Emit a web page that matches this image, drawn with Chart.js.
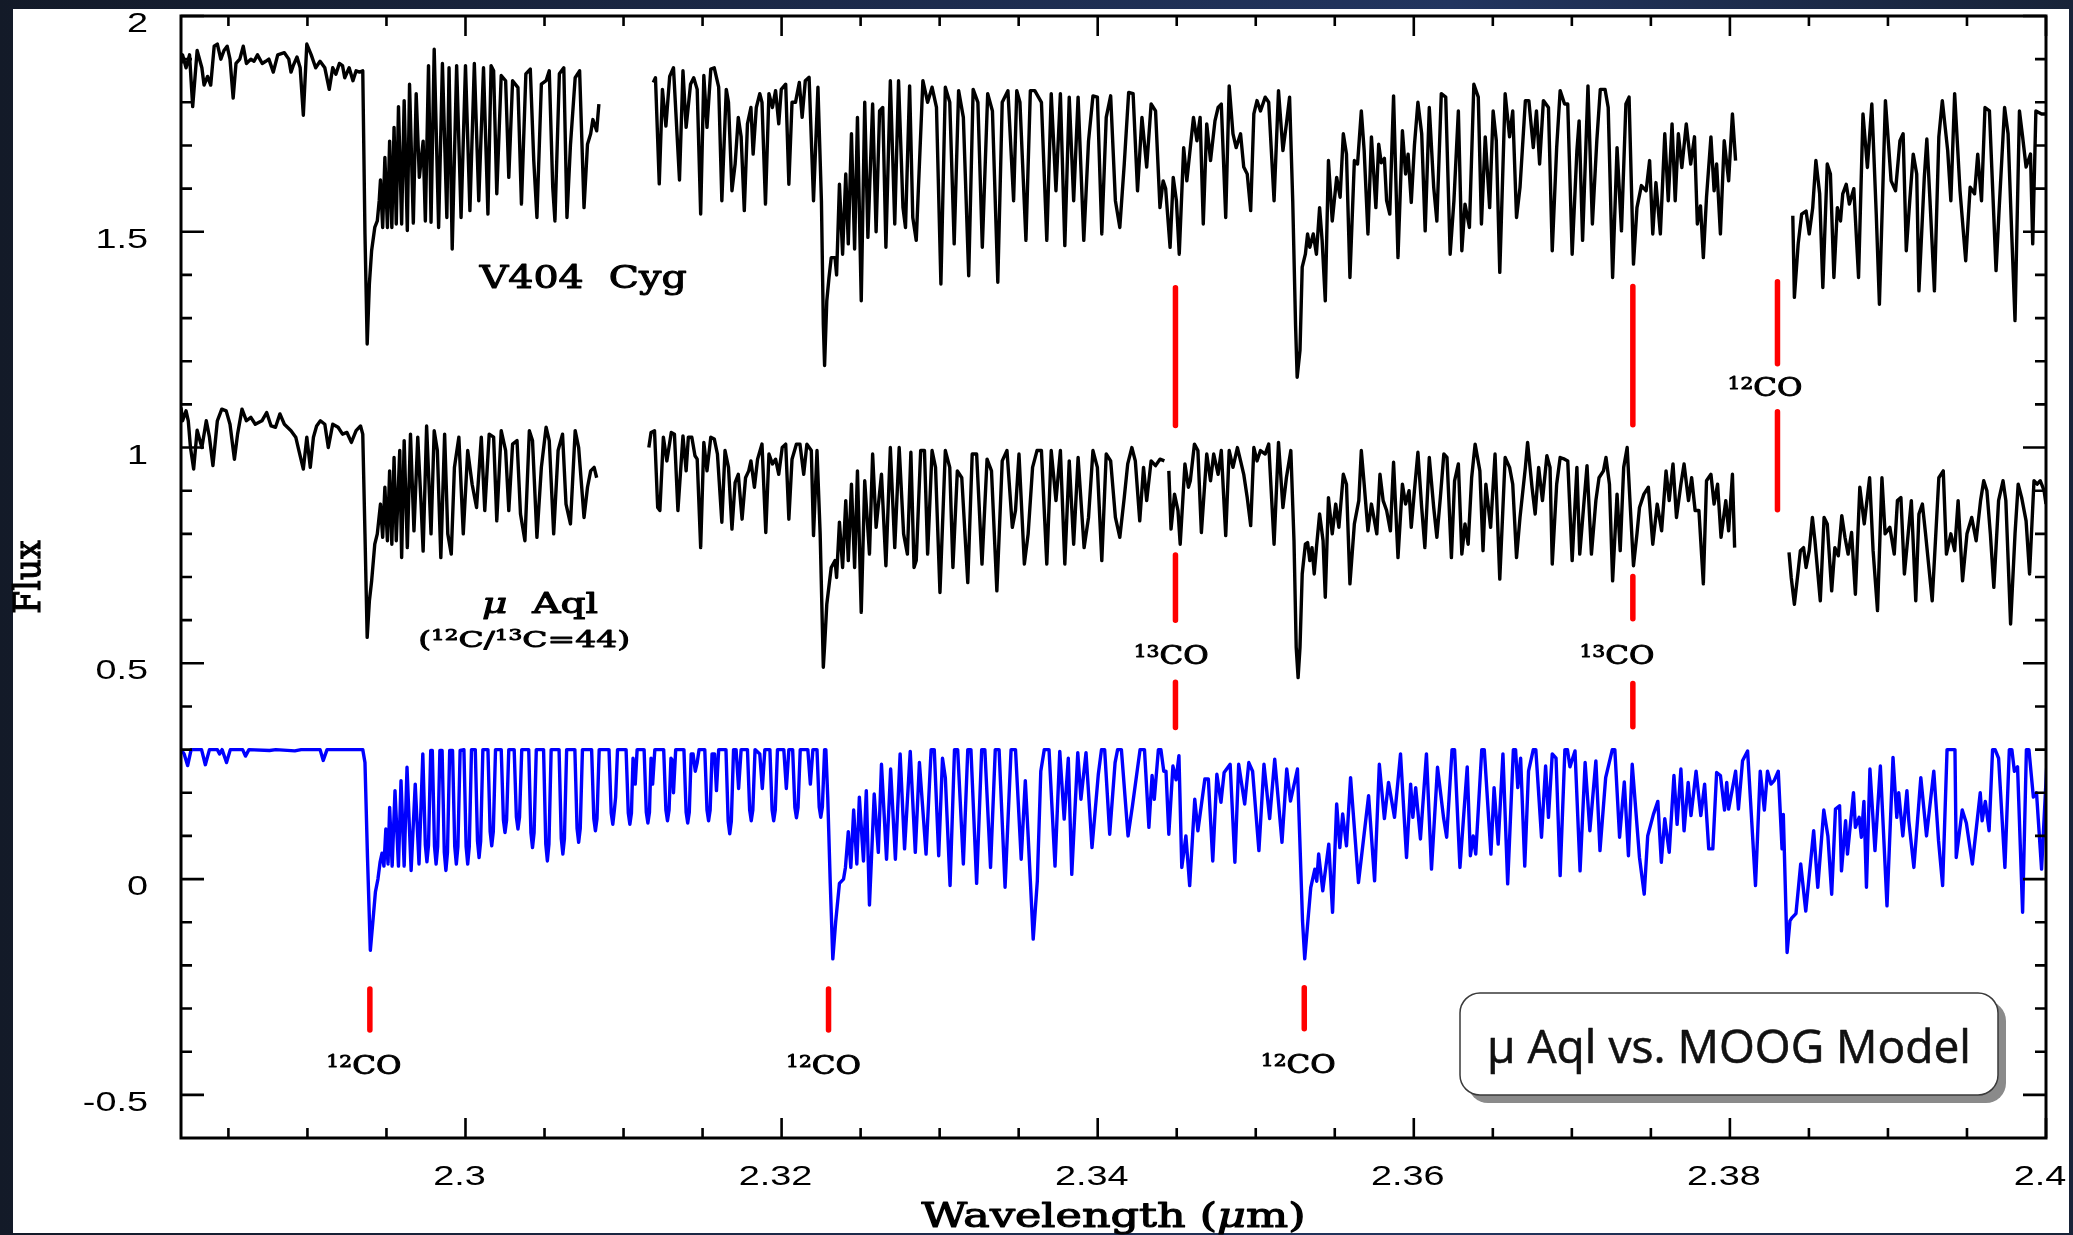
<!DOCTYPE html>
<html>
<head>
<meta charset="utf-8">
<script src="https://cdn.jsdelivr.net/npm/chart.js@4.4.1/dist/chart.umd.min.js"></script>
<style>
  html, body { margin: 0; padding: 0; }
  body { width: 2073px; height: 1235px; overflow: hidden; position: relative;
         background: linear-gradient(90deg, #131a28 0%, #1c2a4a 40%, #22355f 70%, #182338 100%); }
  #panel { position: absolute; left: 13px; top: 9px; width: 2056px; height: 1224px; background: #fff; }
  #spectra { position: absolute; left: 0; top: 0; }
</style>
</head>
<body>
<div id="panel"></div>
<canvas id="spectra" width="2073" height="1235"></canvas>
<script>
// wavelength (micron) / flux pairs, null = no data
const v404Cyg = [
  [2.28200,1.89],[2.28210,1.91],[2.28232,1.88],[2.28254,1.91],[2.28274,1.79],[2.28302,1.92],[2.28332,1.88],[2.28346,1.84],[2.28368,1.86],[2.28388,1.84],
  [2.28410,1.93],[2.28430,1.935],[2.28452,1.90],[2.28472,1.92],[2.28492,1.93],[2.28510,1.90],[2.28530,1.81],[2.28548,1.89],[2.28572,1.90],[2.28594,1.93],
  [2.28614,1.89],[2.28642,1.90],[2.28662,1.895],[2.28684,1.91],[2.28714,1.89],[2.28736,1.895],[2.28756,1.90],[2.28784,1.87],[2.28812,1.91],[2.28854,1.915],
  [2.28882,1.90],[2.28896,1.87],[2.28910,1.885],[2.28934,1.905],[2.28954,1.88],[2.28974,1.77],[2.28996,1.935],[2.29024,1.91],[2.29052,1.88],[2.29080,1.895],
  [2.29110,1.88],[2.29138,1.83],[2.29160,1.88],[2.29180,1.865],[2.29202,1.89],[2.29222,1.885],[2.29236,1.857],[2.29264,1.88],[2.29288,1.85],[2.29308,1.873],
  [2.29330,1.87],[2.29350,1.873],[2.29364,1.495],[2.29378,1.24],[2.29392,1.38],[2.29406,1.456],[2.29426,1.51],[2.29442,1.525],[2.29454,1.572],[2.29462,1.62],
  [2.29476,1.51],[2.29490,1.672],[2.29506,1.51],[2.29520,1.71],[2.29534,1.51],[2.29548,1.742],[2.29562,1.518],[2.29576,1.79],[2.29596,1.518],[2.29612,1.804],
  [2.29632,1.503],[2.29646,1.842],[2.29670,1.52],[2.29688,1.82],[2.29708,1.626],[2.29732,1.71],[2.29746,1.525],[2.29766,1.885],[2.29782,1.522],[2.29802,1.923],
  [2.29830,1.51],[2.29854,1.89],[2.29882,1.533],[2.29896,1.88],[2.29916,1.46],[2.29944,1.885],[2.29972,1.533],[2.30000,1.885],[2.30028,1.549],[2.30056,1.89],
  [2.30084,1.572],[2.30114,1.88],[2.30142,1.541],[2.30162,1.885],[2.30178,1.873],[2.30198,1.588],[2.30226,1.862],[2.30254,1.85],[2.30274,1.626],[2.30298,1.85],
  [2.30332,1.834],[2.30354,1.564],[2.30382,1.866],[2.30410,1.877],[2.30432,1.665],[2.30452,1.533],[2.30480,1.842],[2.30510,1.85],[2.30530,1.873],[2.30552,1.603],
  [2.30566,1.525],[2.30594,1.866],[2.30622,1.88],[2.30642,1.533],[2.30664,1.70],[2.30694,1.857],[2.30722,1.873],[2.30750,1.556],[2.30772,1.703],[2.30792,1.727],
  [2.30806,1.76],[2.30830,1.734],[2.30844,1.796],
  null,
  [2.31188,1.846],[2.31202,1.857],[2.31226,1.611],[2.31246,1.83],[2.31268,1.745],[2.31292,1.86],[2.31316,1.88],[2.31354,1.62],[2.31376,1.873],[2.31396,1.742],
  [2.31424,1.842],[2.31444,1.857],[2.31466,1.83],[2.31488,1.541],[2.31508,1.862],[2.31528,1.742],[2.31552,1.877],[2.31574,1.88],[2.31602,1.835],[2.31622,1.572],
  [2.31650,1.83],[2.31664,1.80],[2.31686,1.595],[2.31706,1.657],[2.31726,1.765],[2.31744,1.72],[2.31764,1.549],[2.31784,1.75],[2.31806,1.788],[2.31820,1.68],
  [2.31840,1.788],[2.31862,1.82],[2.31876,1.80],[2.31898,1.564],[2.31920,1.82],[2.31942,1.788],[2.31962,1.827],[2.31982,1.75],[2.31998,1.83],[2.32026,1.842],
  [2.32046,1.61],[2.32066,1.80],[2.32088,1.80],[2.32112,1.846],[2.32130,1.765],[2.32150,1.85],[2.32174,1.858],[2.32202,1.572],[2.32230,1.835],[2.32252,1.572],
  [2.32264,1.286],[2.32272,1.19],[2.32286,1.34],[2.32300,1.394],[2.32314,1.44],[2.32338,1.44],[2.32348,1.40],[2.32366,1.61],[2.32386,1.448],[2.32406,1.634],
  [2.32422,1.472],[2.32442,1.727],[2.32462,1.46],[2.32480,1.765],[2.32504,1.34],[2.32526,1.80],[2.32546,1.487],[2.32576,1.796],[2.32598,1.50],[2.32620,1.78],
  [2.32640,1.788],[2.32660,1.464],[2.32688,1.85],[2.32716,1.518],[2.32740,1.85],[2.32768,1.556],[2.32784,1.51],[2.32810,1.838],[2.32830,1.533],[2.32852,1.48],
  [2.32894,1.85],[2.32924,1.80],[2.32952,1.835],[2.32980,1.788],[2.33008,1.379],[2.33036,1.835],[2.33064,1.80],[2.33092,1.472],[2.33120,1.827],[2.33150,1.765],
  [2.33184,1.398],[2.33212,1.83],[2.33242,1.80],[2.33270,1.464],[2.33304,1.82],[2.33334,1.78],[2.33368,1.383],[2.33396,1.80],[2.33432,1.827],[2.33468,1.572],
  [2.33488,1.827],[2.33508,1.80],[2.33546,1.48],[2.33574,1.827],[2.33602,1.827],[2.33644,1.80],[2.33678,1.48],[2.33706,1.82],[2.33736,1.595],[2.33764,1.82],
  [2.33792,1.468],[2.33820,1.812],[2.33848,1.572],[2.33876,1.812],[2.33912,1.48],[2.33942,1.71],[2.33970,1.815],[2.33998,1.812],[2.34026,1.495],[2.34054,1.765],
  [2.34082,1.815],[2.34112,1.572],[2.34140,1.51],[2.34168,1.657],[2.34196,1.823],[2.34224,1.82],[2.34252,1.595],[2.34280,1.765],[2.34310,1.65],[2.34338,1.796],
  [2.34366,1.78],[2.34394,1.556],[2.34414,1.618],[2.34430,1.60],[2.34458,1.464],[2.34478,1.626],[2.34498,1.572],[2.34516,1.448],[2.34544,1.695],[2.34564,1.618],
  [2.34586,1.695],[2.34606,1.765],[2.34628,1.711],[2.34648,1.765],[2.34668,1.518],[2.34690,1.75],[2.34714,1.665],[2.34742,1.757],[2.34762,1.788],[2.34782,1.796],
  [2.34810,1.533],[2.34832,1.838],[2.34856,1.727],[2.34876,1.695],[2.34904,1.727],[2.34924,1.65],[2.34946,1.634],[2.34968,1.549],[2.34988,1.773],[2.35008,1.804],
  [2.35030,1.78],[2.35060,1.812],[2.35082,1.80],[2.35116,1.572],[2.35144,1.827],[2.35172,1.688],[2.35194,1.75],[2.35214,1.812],[2.35234,1.572],[2.35252,1.282],
  [2.35262,1.163],[2.35280,1.225],[2.35294,1.418],[2.35314,1.448],[2.35328,1.495],[2.35342,1.464],[2.35364,1.495],[2.35384,1.448],[2.35404,1.556],[2.35420,1.48],
  [2.35440,1.34],[2.35460,1.665],[2.35484,1.525],[2.35512,1.626],[2.35534,1.58],[2.35554,1.727],[2.35574,1.68],[2.35596,1.394],[2.35624,1.665],[2.35644,1.657],
  [2.35668,1.78],[2.35686,1.688],[2.35710,1.495],[2.35732,1.72],[2.35760,1.556],[2.35778,1.703],[2.35794,1.66],[2.35814,1.67],[2.35828,1.572],[2.35848,1.541],
  [2.35872,1.815],[2.35900,1.44],[2.35928,1.734],[2.35948,1.634],[2.35964,1.68],[2.35984,1.568],[2.36004,1.70],[2.36026,1.80],[2.36050,1.727],[2.36072,1.502],
  [2.36098,1.788],[2.36126,1.603],[2.36146,1.525],[2.36174,1.82],[2.36202,1.812],[2.36230,1.448],[2.36254,1.572],[2.36282,1.78],[2.36304,1.456],[2.36324,1.564],
  [2.36352,1.51],[2.36380,1.842],[2.36408,1.812],[2.36428,1.518],[2.36452,1.72],[2.36480,1.556],[2.36502,1.78],[2.36522,1.711],[2.36544,1.406],[2.36578,1.82],
  [2.36606,1.72],[2.36626,1.78],[2.36650,1.533],[2.36672,1.603],[2.36706,1.804],[2.36728,1.804],[2.36756,1.695],[2.36776,1.78],[2.36796,1.657],[2.36820,1.804],
  [2.36852,1.788],[2.36876,1.456],[2.36904,1.695],[2.36926,1.827],[2.36954,1.796],[2.36974,1.796],[2.37002,1.448],[2.37032,1.688],[2.37046,1.757],[2.37068,1.48],
  [2.37102,1.838],[2.37130,1.518],[2.37158,1.711],[2.37180,1.83],[2.37210,1.83],[2.37230,1.788],[2.37258,1.394],[2.37286,1.695],[2.37314,1.502],[2.37342,1.796],
  [2.37362,1.812],[2.37390,1.425],[2.37412,1.556],[2.37440,1.607],[2.37470,1.595],[2.37492,1.665],[2.37512,1.495],[2.37532,1.614],[2.37560,1.495],[2.37588,1.727],
  [2.37610,1.572],[2.37634,1.75],[2.37654,1.572],[2.37674,1.727],[2.37696,1.649],[2.37724,1.75],[2.37752,1.657],[2.37776,1.72],[2.37794,1.518],[2.37814,1.56],
  [2.37832,1.44],[2.37852,1.58],[2.37880,1.72],[2.37900,1.595],[2.37916,1.657],[2.37940,1.495],[2.37964,1.711],[2.37992,1.618],[2.38016,1.773],[2.38036,1.665],
  null,
  [2.38398,1.537],[2.38408,1.348],[2.38432,1.472],[2.38454,1.541],[2.38482,1.548],[2.38502,1.495],[2.38524,1.556],[2.38544,1.665],[2.38568,1.588],[2.38588,1.371],
  [2.38616,1.657],[2.38636,1.634],[2.38658,1.394],[2.38680,1.556],[2.38700,1.525],[2.38714,1.588],[2.38736,1.61],[2.38756,1.564],[2.38784,1.60],[2.38814,1.394],
  [2.38842,1.773],[2.38870,1.649],[2.38898,1.796],[2.38926,1.541],[2.38946,1.332],[2.38984,1.804],[2.39020,1.618],[2.39048,1.595],[2.39076,1.711],[2.39096,1.727],
  [2.39116,1.456],[2.39138,1.572],[2.39160,1.68],[2.39182,1.634],[2.39196,1.363],[2.39230,1.626],[2.39246,1.715],[2.39266,1.572],[2.39294,1.363],[2.39322,1.72],
  [2.39344,1.804],[2.39378,1.688],[2.39398,1.572],[2.39422,1.82],[2.39456,1.595],[2.39492,1.433],[2.39520,1.603],[2.39548,1.588],[2.39568,1.68],[2.39592,1.572],
  [2.39614,1.788],[2.39642,1.78],[2.39684,1.41],[2.39704,1.556],[2.39738,1.788],[2.39760,1.727],[2.39784,1.487],[2.39804,1.294],[2.39832,1.78],[2.39852,1.72],
  [2.39874,1.65],[2.39902,1.68],[2.39916,1.472],[2.39936,1.78],[2.39972,1.773],[2.40000,1.773]
];

const muAql = [
  [2.28200,1.093],[2.28210,1.062],[2.28232,1.085],[2.28246,1.062],[2.28260,1.00],[2.28280,0.95],[2.28302,1.04],[2.28332,1.00],[2.28360,1.062],[2.28380,1.024],
  [2.28402,0.958],[2.28430,1.062],[2.28458,1.089],[2.28486,1.085],[2.28510,1.054],[2.28538,0.973],[2.28558,1.031],[2.28586,1.089],[2.28614,1.062],[2.28642,1.07],
  [2.28670,1.054],[2.28712,1.062],[2.28742,1.081],[2.28770,1.05],[2.28798,1.047],[2.28826,1.078],[2.28854,1.054],[2.28896,1.039],[2.28926,1.024],[2.28946,0.993],
  [2.28974,0.95],[2.28996,1.024],[2.29018,0.954],[2.29038,1.024],[2.29058,1.05],[2.29082,1.062],[2.29110,1.054],[2.29132,1.00],[2.29160,1.054],[2.29194,1.047],
  [2.29222,1.031],[2.29250,1.035],[2.29278,1.012],[2.29308,1.039],[2.29336,1.05],[2.29350,1.031],[2.29364,0.80],[2.29378,0.56],[2.29392,0.645],[2.29406,0.69],
  [2.29426,0.776],[2.29442,0.80],[2.29462,0.869],[2.29476,0.792],[2.29490,0.908],[2.29506,0.784],[2.29520,0.946],[2.29534,0.776],[2.29548,0.977],[2.29562,0.784],
  [2.29584,0.993],[2.29596,0.745],[2.29612,1.016],[2.29632,0.768],[2.29652,1.031],[2.29674,0.807],[2.29698,1.024],[2.29718,0.877],[2.29732,0.76],[2.29754,1.05],
  [2.29782,0.80],[2.29802,1.039],[2.29822,0.993],[2.29844,0.745],[2.29868,1.031],[2.29888,0.80],[2.29910,0.753],[2.29930,0.954],[2.29958,1.024],[2.29986,0.80],
  [2.30014,0.993],[2.30042,0.915],[2.30070,0.861],[2.30100,1.024],[2.30122,0.854],[2.30150,1.031],[2.30178,1.024],[2.30198,0.83],[2.30226,1.039],[2.30254,0.993],
  [2.30274,0.854],[2.30298,1.008],[2.30326,1.016],[2.30348,0.846],[2.30376,0.784],[2.30404,1.039],[2.30424,1.016],[2.30452,0.792],[2.30480,0.954],[2.30510,1.047],
  [2.30530,1.016],[2.30558,0.80],[2.30586,0.993],[2.30614,1.031],[2.30636,0.869],[2.30664,0.823],[2.30694,1.039],[2.30716,1.00],[2.30750,0.838],[2.30772,0.908],
  [2.30792,0.946],[2.30814,0.954],[2.30830,0.93],
  null,
  [2.31160,1.00],[2.31174,1.035],[2.31196,1.039],[2.31216,0.861],[2.31230,0.854],[2.31252,1.024],[2.31274,0.969],[2.31302,1.035],[2.31322,1.031],[2.31344,0.854],
  [2.31376,1.027],[2.31396,0.946],[2.31410,1.024],[2.31432,1.024],[2.31452,0.981],[2.31466,0.973],[2.31488,0.768],[2.31508,1.012],[2.31528,0.946],[2.31552,1.024],
  [2.31574,1.02],[2.31594,0.985],[2.31622,0.827],[2.31642,0.993],[2.31664,0.954],[2.31686,0.811],[2.31706,0.919],[2.31726,0.938],[2.31750,0.834],[2.31772,0.93],
  [2.31792,0.946],[2.31806,0.969],[2.31828,0.908],[2.31848,0.973],[2.31876,1.008],[2.31900,0.803],[2.31920,0.985],[2.31942,0.962],[2.31962,0.973],[2.31982,0.938],
  [2.32004,1.00],[2.32026,1.008],[2.32046,0.834],[2.32066,0.973],[2.32094,1.008],[2.32116,1.008],[2.32140,0.938],[2.32160,1.008],[2.32188,0.993],[2.32202,0.796],
  [2.32224,0.993],[2.32244,0.80],[2.32264,0.491],[2.32272,0.54],[2.32286,0.637],[2.32314,0.722],[2.32338,0.738],[2.32348,0.699],[2.32366,0.827],[2.32386,0.722],
  [2.32406,0.877],[2.32422,0.738],[2.32442,0.915],[2.32462,0.722],[2.32480,0.946],[2.32504,0.618],[2.32526,0.923],[2.32556,0.753],[2.32576,0.985],[2.32598,0.815],
  [2.32632,0.938],[2.32660,0.726],[2.32688,1.00],[2.32716,0.768],[2.32744,1.00],[2.32772,0.80],[2.32796,0.753],[2.32818,0.989],[2.32838,0.722],[2.32852,0.738],
  [2.32880,0.993],[2.32904,0.993],[2.32924,0.753],[2.32952,0.993],[2.32974,0.954],[2.33002,0.664],[2.33036,0.993],[2.33064,0.954],[2.33084,0.722],[2.33112,0.946],
  [2.33140,0.93],[2.33178,0.687],[2.33206,0.985],[2.33234,0.985],[2.33268,0.73],[2.33300,0.973],[2.33328,0.946],[2.33362,0.668],[2.33396,0.969],[2.33426,0.993],
  [2.33460,0.815],[2.33480,0.854],[2.33502,0.985],[2.33536,0.73],[2.33560,0.80],[2.33588,0.954],[2.33616,0.993],[2.33644,0.993],[2.33678,0.73],[2.33706,0.993],
  [2.33736,0.877],[2.33764,0.993],[2.33792,0.73],[2.33820,0.969],[2.33848,0.776],[2.33876,0.977],[2.33914,0.768],[2.33942,0.838],[2.33970,0.993],[2.33998,0.954],
  [2.34026,0.738],[2.34054,0.985],[2.34082,0.969],[2.34112,0.838],[2.34140,0.792],[2.34168,0.884],[2.34190,0.962],[2.34216,1.00],[2.34238,0.969],[2.34266,0.83],
  [2.34290,0.954],[2.34310,0.877],[2.34338,0.969],[2.34366,0.958],[2.34394,0.973],[2.34422,0.969],
  null,
  [2.34450,0.946],[2.34464,0.811],[2.34486,0.892],[2.34508,0.854],[2.34522,0.776],[2.34552,0.962],[2.34574,0.908],[2.34586,0.923],[2.34612,1.008],[2.34634,0.993],
  [2.34656,0.803],[2.34690,0.985],[2.34714,0.923],[2.34734,0.985],[2.34762,0.938],[2.34782,0.993],[2.34810,0.796],[2.34832,0.993],[2.34856,0.954],[2.34884,1.00],
  [2.34904,0.969],[2.34924,0.938],[2.34946,0.884],[2.34968,0.819],[2.34988,1.00],[2.35008,0.969],[2.35030,0.993],[2.35060,0.985],[2.35082,1.008],[2.35116,0.776],
  [2.35144,1.012],[2.35172,0.861],[2.35194,0.93],[2.35222,0.993],[2.35242,0.784],[2.35256,0.537],[2.35268,0.467],[2.35280,0.537],[2.35294,0.707],[2.35314,0.776],
  [2.35328,0.78],[2.35342,0.738],[2.35356,0.768],[2.35370,0.707],[2.35384,0.768],[2.35404,0.846],[2.35426,0.784],[2.35440,0.653],[2.35460,0.884],[2.35484,0.80],
  [2.35506,0.869],[2.35526,0.815],[2.35554,0.938],[2.35574,0.915],[2.35596,0.684],[2.35624,0.823],[2.35652,0.877],[2.35668,0.993],[2.35686,0.915],[2.35710,0.807],
  [2.35732,0.869],[2.35766,0.80],[2.35786,0.938],[2.35806,0.877],[2.35828,0.854],[2.35852,0.807],[2.35872,0.966],[2.35900,0.745],[2.35928,0.915],[2.35948,0.869],
  [2.35970,0.90],[2.35984,0.815],[2.36004,0.90],[2.36026,0.989],[2.36050,0.861],[2.36070,0.768],[2.36098,0.977],[2.36126,0.861],[2.36146,0.792],[2.36168,0.884],
  [2.36190,0.985],[2.36210,0.977],[2.36238,0.745],[2.36258,0.923],[2.36282,0.962],[2.36304,0.753],[2.36324,0.823],[2.36344,0.776],[2.36366,0.93],[2.36388,1.008],
  [2.36418,0.946],[2.36438,0.761],[2.36456,0.915],[2.36486,0.815],[2.36514,0.985],[2.36544,0.695],[2.36578,0.977],[2.36606,0.954],[2.36626,0.915],[2.36650,0.745],
  [2.36672,0.838],[2.36706,0.954],[2.36720,1.012],[2.36748,0.908],[2.36768,0.846],[2.36790,0.954],[2.36814,0.877],[2.36842,0.981],[2.36862,0.954],[2.36876,0.73],
  [2.36904,0.915],[2.36926,0.977],[2.36954,0.973],[2.36974,0.969],[2.37002,0.738],[2.37032,0.954],[2.37050,0.753],[2.37074,0.861],[2.37096,0.958],[2.37124,0.753],
  [2.37152,0.877],[2.37172,0.93],[2.37200,0.946],[2.37216,0.977],[2.37238,0.915],[2.37258,0.691],[2.37286,0.892],[2.37306,0.761],[2.37328,0.954],[2.37350,1.00],
  [2.37370,0.861],[2.37390,0.726],[2.37412,0.80],[2.37428,0.861],[2.37456,0.892],[2.37484,0.908],[2.37512,0.776],[2.37540,0.869],[2.37568,0.807],[2.37596,0.946],
  [2.37616,0.877],[2.37640,0.962],[2.37662,0.838],[2.37690,0.915],[2.37710,0.962],[2.37738,0.877],[2.37758,0.93],[2.37780,0.854],[2.37804,0.854],[2.37832,0.684],
  [2.37852,0.923],[2.37880,0.938],[2.37900,0.869],[2.37922,0.915],[2.37944,0.792],[2.37974,0.877],[2.37992,0.807],[2.38016,0.938],[2.38030,0.768],
  null,
  [2.38374,0.757],[2.38388,0.699],[2.38408,0.637],[2.38432,0.714],[2.38446,0.761],[2.38466,0.768],[2.38482,0.722],[2.38502,0.761],[2.38522,0.838],[2.38538,0.784],
  [2.38572,0.645],[2.38596,0.838],[2.38616,0.823],[2.38644,0.668],[2.38664,0.768],[2.38686,0.749],[2.38708,0.842],[2.38728,0.792],[2.38748,0.753],[2.38770,0.803],
  [2.38794,0.66],[2.38822,0.908],[2.38850,0.823],[2.38884,0.93],[2.38906,0.761],[2.38934,0.622],[2.38962,0.93],[2.38982,0.80],[2.39012,0.815],[2.39040,0.753],
  [2.39060,0.877],[2.39082,0.884],[2.39104,0.707],[2.39128,0.80],[2.39148,0.877],[2.39176,0.645],[2.39196,0.846],[2.39218,0.869],[2.39238,0.80],[2.39280,0.645],
  [2.39322,0.93],[2.39350,0.946],[2.39370,0.753],[2.39398,0.80],[2.39422,0.761],[2.39444,0.877],[2.39472,0.691],[2.39500,0.80],[2.39530,0.838],[2.39558,0.784],
  [2.39586,0.877],[2.39606,0.923],[2.39626,0.90],[2.39648,0.80],[2.39670,0.676],[2.39700,0.877],[2.39728,0.923],[2.39746,0.877],[2.39776,0.591],[2.39804,0.80],
  [2.39824,0.915],[2.39846,0.884],[2.39874,0.83],[2.39896,0.707],[2.39924,0.923],[2.39944,0.915],[2.39964,0.923],[2.39988,0.90],[2.40000,0.869]
];

const moogModel = [
  [2.28200,0.30],[2.28220,0.29],[2.28242,0.263],[2.28264,0.30],[2.28330,0.30],[2.28354,0.265],[2.28380,0.30],[2.28430,0.30],[2.28444,0.29],[2.28460,0.30],
  [2.28488,0.27],[2.28512,0.30],[2.28590,0.30],[2.28608,0.285],[2.28630,0.30],[2.28760,0.298],[2.28800,0.30],[2.28920,0.297],[2.28960,0.30],[2.29080,0.30],
  [2.29100,0.275],[2.29124,0.30],[2.29350,0.30],[2.29364,0.27],[2.29380,0.05],[2.29398,-0.165],[2.29416,-0.09],[2.29430,-0.03],[2.29446,0.0],[2.29460,0.04],
  [2.29472,0.06],[2.29484,0.03],[2.29496,0.116],[2.29510,0.035],[2.29520,0.166],[2.29536,0.03],[2.29554,0.205],[2.29576,0.03],[2.29592,0.228],[2.29612,0.03],
  [2.29630,0.259],[2.29656,0.02],[2.29682,0.22],[2.29706,0.035],[2.29730,0.29],
  [2.29746,0.079],[2.29756,0.04],[2.29766,0.079],[2.29780,0.298],
  [2.29790,0.298],[2.29804,0.075],[2.29814,0.035],[2.29824,0.075],[2.29838,0.298],
  [2.29852,0.298],[2.29866,0.062],[2.29876,0.02],[2.29886,0.062],[2.29900,0.298],
  [2.29918,0.298],[2.29932,0.075],[2.29942,0.035],[2.29952,0.075],[2.29966,0.298],
  [2.29990,0.30],[2.30004,0.075],[2.30014,0.035],[2.30024,0.075],[2.30038,0.30],
  [2.30062,0.30],[2.30076,0.088],[2.30086,0.05],[2.30096,0.088],[2.30110,0.30],
  [2.30142,0.30],[2.30156,0.11],[2.30166,0.077],[2.30176,0.11],[2.30190,0.30],
  [2.30226,0.30],[2.30240,0.137],[2.30250,0.108],[2.30260,0.137],[2.30274,0.30],
  [2.30308,0.30],[2.30322,0.144],[2.30332,0.116],[2.30342,0.144],[2.30356,0.30],
  [2.30400,0.30],[2.30414,0.107],[2.30424,0.073],[2.30434,0.107],[2.30448,0.30],
  [2.30494,0.30],[2.30508,0.081],[2.30518,0.042],[2.30528,0.081],[2.30542,0.30],
  [2.30592,0.30],[2.30606,0.094],[2.30616,0.058],[2.30626,0.094],[2.30640,0.30],
  [2.30692,0.30],[2.30706,0.117],[2.30716,0.085],[2.30726,0.117],[2.30740,0.30],
  [2.30798,0.30],[2.30812,0.14],[2.30822,0.112],[2.30832,0.14],[2.30846,0.30],
  [2.30908,0.30],[2.30922,0.153],[2.30932,0.127],[2.30942,0.16],[2.30950,0.19],[2.30962,0.30],
  [2.31016,0.30],[2.31030,0.153],[2.31040,0.127],[2.31050,0.153],[2.31060,0.28],[2.31068,0.25],[2.31074,0.22],[2.31086,0.30],
  [2.31130,0.30],[2.31144,0.155],[2.31154,0.13],[2.31164,0.155],[2.31174,0.28],[2.31184,0.22],[2.31198,0.30],
  [2.31254,0.30],[2.31268,0.16],[2.31278,0.135],[2.31288,0.16],[2.31300,0.28],[2.31310,0.275],[2.31316,0.20],[2.31330,0.30],
  [2.31382,0.30],[2.31396,0.155],[2.31406,0.13],[2.31416,0.155],[2.31428,0.29],[2.31440,0.29],[2.31454,0.25],[2.31466,0.27],[2.31478,0.30],
  [2.31514,0.30],[2.31528,0.16],[2.31538,0.135],[2.31548,0.16],[2.31560,0.29],[2.31576,0.29],[2.31588,0.205],[2.31602,0.30],
  [2.31648,0.30],[2.31662,0.134],[2.31672,0.105],[2.31682,0.134],[2.31696,0.30],[2.31712,0.30],[2.31728,0.21],[2.31744,0.30],
  [2.31784,0.30],[2.31798,0.16],[2.31808,0.135],[2.31818,0.16],[2.31832,0.30],[2.31862,0.29],[2.31878,0.21],[2.31894,0.30],
  [2.31926,0.30],[2.31940,0.16],[2.31950,0.135],[2.31960,0.16],[2.31974,0.30],[2.32014,0.30],[2.32030,0.21],[2.32046,0.30],
  [2.32070,0.30],[2.32084,0.166],[2.32094,0.142],[2.32104,0.166],[2.32118,0.30],[2.32166,0.30],[2.32182,0.22],[2.32198,0.30],
  [2.32224,0.30],[2.32238,0.167],[2.32248,0.143],[2.32258,0.167],[2.32272,0.30],[2.32280,0.30],
  [2.32292,0.19],[2.32308,-0.01],[2.32324,-0.185],[2.32342,-0.10],[2.32366,-0.01],[2.32392,0.0],[2.32404,0.027],
  [2.32422,0.11],[2.32438,0.027],[2.32456,0.16],[2.32476,0.035],[2.32492,0.19],[2.32518,0.042],[2.32536,0.205],[2.32556,-0.06],[2.32586,0.197],[2.32612,0.062],
  [2.32632,0.266],[2.32664,0.046],[2.32690,0.255],[2.32720,0.046],[2.32750,0.29],[2.32778,0.07],[2.32814,0.296],[2.32846,0.062],[2.32872,0.27],[2.32914,0.058],
  [2.32946,0.30],[2.32966,0.30],[2.32994,0.054],[2.33018,0.28],[2.33036,0.235],[2.33066,-0.015],[2.33094,0.30],[2.33114,0.30],[2.33150,0.035],[2.33178,0.30],
  [2.33198,0.30],[2.33234,-0.01],[2.33266,0.30],[2.33286,0.30],[2.33322,0.027],[2.33352,0.30],[2.33376,0.30],[2.33414,-0.019],[2.33452,0.30],[2.33480,0.30],
  [2.33516,0.046],[2.33542,0.228],[2.33560,0.10],[2.33592,-0.139],[2.33618,-0.004],[2.33640,0.25],
  [2.33662,0.30],[2.33692,0.30],[2.33730,0.03],[2.33760,0.296],[2.33788,0.139],[2.33814,0.28],[2.33836,0.011],[2.33874,0.293],[2.33894,0.185],[2.33926,0.293],
  [2.33964,0.073],[2.34004,0.243],[2.34024,0.30],[2.34044,0.30],[2.34076,0.104],[2.34110,0.27],[2.34126,0.30],[2.34150,0.30],[2.34192,0.10],[2.34220,0.17],
  [2.34268,0.30],[2.34296,0.30],
  [2.34324,0.12],[2.34344,0.24],[2.34358,0.185],[2.34384,0.30],[2.34400,0.30],[2.34418,0.25],[2.34432,0.25],[2.34450,0.104],[2.34476,0.262],[2.34496,0.23],[2.34514,0.286],
  [2.34532,0.027],[2.34558,0.10],[2.34582,-0.015],[2.34614,0.185],[2.34634,0.112],[2.34678,0.232],[2.34700,0.232],[2.34728,0.042],[2.34754,0.243],[2.34780,0.178],
  [2.34800,0.247],[2.34838,0.266],[2.34868,0.039],[2.34892,0.266],[2.34930,0.174],[2.34956,0.27],[2.34980,0.25],[2.35020,0.066],[2.35052,0.266],[2.35088,0.14],
  [2.35120,0.278],[2.35166,0.085],[2.35196,0.255],[2.35220,0.181],[2.35264,0.255],[2.35296,-0.097],[2.35310,-0.185],[2.35330,-0.097],[2.35348,-0.02],[2.35374,0.023],
  [2.35386,-0.005],[2.35398,0.058],[2.35424,-0.027],[2.35462,0.081],[2.35486,-0.077],[2.35512,0.174],[2.35532,0.073],[2.35550,0.151],[2.35574,0.077],[2.35600,0.235],
  [2.35650,-0.008],[2.35714,0.193],[2.35752,-0.004],[2.35782,0.266],[2.35814,0.14],[2.35840,0.224],[2.35878,0.143],[2.35916,0.29],[2.35954,0.05],[2.35980,0.22],
  [2.35994,0.143],[2.36012,0.212],[2.36042,0.093],[2.36080,0.29],[2.36112,0.023],[2.36150,0.259],[2.36188,0.143],[2.36208,0.097],[2.36242,0.30],[2.36258,0.30],[2.36292,0.027],
  [2.36338,0.26],[2.36358,0.054],[2.36376,0.10],[2.36392,0.058],[2.36430,0.30],[2.36446,0.30],[2.36488,0.058],[2.36508,0.212],[2.36534,0.081],[2.36564,0.29],[2.36594,-0.011],
  [2.36630,0.30],[2.36644,0.30],[2.36658,0.212],[2.36676,0.28],[2.36702,0.03],[2.36726,0.25],[2.36756,0.30],[2.36772,0.30],[2.36808,0.097],[2.36834,0.262],[2.36852,0.143],[2.36876,0.29],
  [2.36900,0.28],[2.36926,0.008],[2.36956,0.30],[2.36972,0.30],[2.36988,0.26],[2.37020,0.297],[2.37052,0.019],[2.37084,0.27],[2.37114,0.112],[2.37152,0.274],[2.37178,0.066],
  [2.37214,0.235],[2.37256,0.30],[2.37272,0.30],[2.37302,0.097],[2.37332,0.225],[2.37358,0.054],[2.37382,0.266],[2.37428,0.05],[2.37458,-0.035],[2.37480,0.10],[2.37516,0.15],
  [2.37544,0.18],[2.37566,0.039],[2.37588,0.14],[2.37616,0.062],[2.37646,0.24],[2.37666,0.127],[2.37690,0.255],[2.37710,0.112],[2.37736,0.224],[2.37754,0.147],
  [2.37786,0.25],[2.37816,0.147],[2.37840,0.22],[2.37866,0.07],[2.37892,0.07],[2.37916,0.247],[2.37940,0.24],[2.37966,0.16],[2.37980,0.224],[2.37992,0.162],
  [2.38036,0.25],[2.38054,0.162],[2.38080,0.274],[2.38112,0.297],[2.38162,-0.015],[2.38192,0.25],[2.38218,0.16],[2.38238,0.25],[2.38260,0.22],[2.38280,0.228],
  [2.38306,0.25],[2.38330,0.07],[2.38338,0.15],[2.38362,-0.17],[2.38380,-0.097],[2.38392,-0.09],[2.38418,-0.08],[2.38448,0.035],[2.38480,-0.074],[2.38530,0.112],
  [2.38556,-0.019],[2.38594,0.16],[2.38620,0.10],[2.38644,-0.035],[2.38668,0.162],[2.38694,0.17],[2.38706,0.019],[2.38732,0.135],[2.38744,0.058],[2.38782,0.20],
  [2.38794,0.12],[2.38818,0.143],[2.38832,0.097],[2.38848,0.18],[2.38864,-0.019],[2.38886,0.255],[2.38918,0.066],[2.38952,0.262],[2.38994,-0.062],[2.39032,0.282],
  [2.39056,0.143],[2.39068,0.20],[2.39094,0.10],[2.39120,0.205],[2.39132,0.135],[2.39164,0.027],[2.39208,0.235],[2.39244,0.10],[2.39290,0.25],[2.39320,0.089],
  [2.39346,-0.015],[2.39374,0.30],[2.39390,0.30],[2.39408,0.30],[2.39424,0.30],[2.39432,0.05],[2.39470,0.16],[2.39496,0.13],[2.39534,0.035],[2.39584,0.20],[2.39596,0.135],[2.39616,0.18],
  [2.39640,0.112],[2.39662,0.30],[2.39678,0.30],[2.39700,0.28],[2.39740,0.027],[2.39768,0.30],[2.39784,0.30],[2.39800,0.25],[2.39820,0.26],[2.39852,-0.077],[2.39876,0.30],[2.39892,0.30],[2.39920,0.19],
  [2.39940,0.20],[2.39972,0.023],[2.40010,0.30]
];

// CO band-head / isotope markers: [wavelength, upper flux, lower flux]
const coMarkers = [
  [2.29395, -0.255, -0.350], [2.32297, -0.255, -0.350], [2.35307, -0.252, -0.347],
  [2.34492, 1.370, 1.051], [2.34492, 0.751, 0.600], [2.34492, 0.456, 0.351],
  [2.37386, 1.373, 1.053], [2.37386, 0.701, 0.603], [2.37386, 0.453, 0.353],
  [2.38301, 1.384, 1.194], [2.38301, 1.083, 0.856]
];
// [isotope mass number, wavelength, flux at baseline]
const coLabels = [
  ['12', 2.29357, -0.451], ['12', 2.32265, -0.451], ['12', 2.35269, -0.449],
  ['13', 2.34465, 0.499], ['13', 2.37285, 0.499], ['12', 2.38222, 1.120]
];

const waveTicks = [2.3, 2.32, 2.34, 2.36, 2.38, 2.4];
const waveMinorTicks = [2.285, 2.29, 2.295, 2.305, 2.31, 2.315, 2.325, 2.33, 2.335, 2.345, 2.35, 2.355,
                        2.365, 2.37, 2.375, 2.385, 2.39, 2.395];
const fluxTicks = [-0.5, 0, 0.5, 1, 1.5, 2];
const fluxMinorTicks = [-0.4, -0.3, -0.2, -0.1, 0.1, 0.2, 0.3, 0.4, 0.6, 0.7, 0.8, 0.9,
                        1.1, 1.2, 1.3, 1.4, 1.6, 1.7, 1.8, 1.9];

const SERIF = '"DejaVu Serif", "Liberation Serif", serif';
const SANS = '"Liberation Sans", Arial, sans-serif';

function toPoints(pairs) {
  let lastX = pairs[0][0];
  return pairs.map(p => {
    if (!p) return { x: lastX, y: null };
    lastX = p[0];
    return { x: p[0], y: p[1] };
  });
}

function markerPoints(list) {
  const out = [];
  list.forEach(m => {
    out.push({ x: m[0], y: m[1] }, { x: m[0], y: m[2] }, { x: m[0], y: null });
  });
  return out;
}

// draw a row of text runs; opt.width squeezes/stretches the row to that width,
// opt.stroke thickens the glyphs a little
function drawRuns(ctx, runs, x, y, align, opt) {
  let total = 0;
  runs.forEach(r => { ctx.font = r.font; r.w = ctx.measureText(r.text).width; total += r.w; });
  const sx = opt.width ? opt.width / total : (opt.stretch || 1);
  ctx.save();
  ctx.translate(x, y);
  ctx.scale(sx, 1);
  let cx = align === 'right' ? -total : (align === 'left' ? 0 : -total / 2);
  ctx.textAlign = 'left';
  ctx.textBaseline = 'alphabetic';
  if (opt.stroke) { ctx.lineWidth = opt.stroke; ctx.strokeStyle = ctx.fillStyle; ctx.lineJoin = 'round'; }
  runs.forEach(r => {
    ctx.font = r.font;
    ctx.fillText(r.text, cx, r.dy || 0);
    if (opt.stroke) ctx.strokeText(r.text, cx, r.dy || 0);
    cx += r.w;
  });
  ctx.restore();
}

function roundRect(ctx, x, y, w, h, r) {
  ctx.beginPath();
  ctx.moveTo(x + r, y);
  ctx.arcTo(x + w, y, x + w, y + h, r);
  ctx.arcTo(x + w, y + h, x, y + h, r);
  ctx.arcTo(x, y + h, x, y, r);
  ctx.arcTo(x, y, x + w, y, r);
  ctx.closePath();
}

const frameAndText = {
  id: 'frameAndText',
  afterDraw(chart) {
    const { ctx, chartArea: a, scales: { x, y } } = chart;
    ctx.save();
    ctx.strokeStyle = '#000';
    ctx.fillStyle = '#000';

    // box
    ctx.lineWidth = 3;
    ctx.strokeRect(a.left, a.top, a.right - a.left, a.bottom - a.top);

    // inward ticks on all four sides
    ctx.lineWidth = 2.6;
    ctx.beginPath();
    const xTick = (v, len) => {
      const px = x.getPixelForValue(v);
      ctx.moveTo(px, a.bottom); ctx.lineTo(px, a.bottom - len);
      ctx.moveTo(px, a.top); ctx.lineTo(px, a.top + len);
    };
    const yTick = (v, len) => {
      const py = y.getPixelForValue(v);
      ctx.moveTo(a.left, py); ctx.lineTo(a.left + len, py);
      ctx.moveTo(a.right, py); ctx.lineTo(a.right - len, py);
    };
    waveTicks.forEach(v => xTick(v, 20));
    waveMinorTicks.forEach(v => xTick(v, 10));
    fluxTicks.forEach(v => yTick(v, 23));
    fluxMinorTicks.forEach(v => yTick(v, 11));
    ctx.stroke();

    // tick labels
    const tickFont = '27px ' + SANS;
    waveTicks.forEach(v => {
      drawRuns(ctx, [{ text: String(v), font: tickFont }], x.getPixelForValue(v) - 6, a.bottom + 47, 'center', { stretch: 1.4 });
    });
    fluxTicks.forEach(v => {
      drawRuns(ctx, [{ text: String(v), font: tickFont }], a.left - 33, y.getPixelForValue(v) + 16, 'right', { stretch: 1.4 });
    });

    // axis titles
    const cxArea = (a.left + a.right) / 2;
    drawRuns(ctx, [
      { text: 'Wavelength (', font: '33px ' + SERIF },
      { text: '\u03bc', font: 'italic 33px ' + SERIF },
      { text: 'm)', font: '33px ' + SERIF }
    ], cxArea, a.bottom + 89, 'center', { width: 384, stroke: 1.1 });

    ctx.save();
    ctx.translate(30, (a.top + a.bottom) / 2);
    ctx.rotate(-Math.PI / 2);
    ctx.scale(1, 1.15);
    ctx.font = '33px ' + SERIF;
    ctx.lineWidth = 1;
    ctx.textAlign = 'center';
    ctx.textBaseline = 'middle';
    ctx.fillText('Flux', 0, 0);
    ctx.strokeText('Flux', 0, 0);
    ctx.restore();

    // spectrum names
    drawRuns(ctx, [{ text: 'V404  Cyg', font: '31px ' + SERIF }],
      x.getPixelForValue(2.30745), y.getPixelForValue(1.370), 'center', { width: 207, stroke: 1 });
    drawRuns(ctx, [
      { text: '\u03bc', font: 'italic 28px ' + SERIF },
      { text: '  Aql', font: '28px ' + SERIF }
    ], x.getPixelForValue(2.30472), y.getPixelForValue(0.617), 'center', { width: 116, stroke: 1 });
    const sup = '15px ' + SERIF, base = '23px ' + SERIF;
    drawRuns(ctx, [
      { text: '(', font: base }, { text: '12', font: sup, dy: -7 }, { text: 'C/', font: base },
      { text: '13', font: sup, dy: -7 }, { text: 'C=44)', font: base }
    ], x.getPixelForValue(2.30371), y.getPixelForValue(0.537), 'center', { width: 212, stroke: 0.9 });

    // CO labels
    coLabels.forEach(l => {
      drawRuns(ctx, [
        { text: l[0], font: '17px ' + SERIF, dy: -7 },
        { text: 'CO', font: '26px ' + SERIF }
      ], x.getPixelForValue(l[1]), y.getPixelForValue(l[2]), 'center', { width: 75, stroke: 0.9 });
    });

    // caption box
    const bx = 1460, by = 993, bw = 538, bh = 102;
    ctx.fillStyle = '#8a8a8a';
    roundRect(ctx, bx + 8, by + 8, bw, bh, 20);
    ctx.fill();
    ctx.fillStyle = '#fff';
    roundRect(ctx, bx, by, bw, bh, 20);
    ctx.fill();
    ctx.strokeStyle = '#3a3a3a';
    ctx.lineWidth = 1.5;
    ctx.stroke();
    ctx.fillStyle = '#111';
    drawRuns(ctx, [{ text: '\u00b5 Aql vs. MOOG Model', font: '46px "Open Sans", "Noto Sans", sans-serif' }],
      bx + bw / 2, by + 70, 'center', { width: 484, stroke: 0.6 });

    ctx.restore();
  }
};

new Chart(document.getElementById('spectra'), {
  type: 'line',
  data: {
    datasets: [
      { label: 'V404 Cyg', data: toPoints(v404Cyg), borderColor: '#000', borderWidth: 3.4 },
      { label: 'mu Aql', data: toPoints(muAql), borderColor: '#000', borderWidth: 3.4 },
      { label: 'MOOG model', data: toPoints(moogModel), borderColor: '#0000ff', borderWidth: 3.4 },
      { label: 'CO markers', data: markerPoints(coMarkers), borderColor: '#ff0000', borderWidth: 5.5,
        borderCapStyle: 'butt' }
    ]
  },
  options: {
    responsive: false,
    animation: false,
    devicePixelRatio: 1,
    layout: { padding: { left: 181, right: 27, top: 16, bottom: 97 } },
    elements: {
      point: { radius: 0, hoverRadius: 0 },
      line: { tension: 0, borderJoinStyle: 'round', fill: false }
    },
    plugins: { legend: { display: false }, tooltip: { enabled: false } },
    scales: {
      x: { type: 'linear', min: 2.282, max: 2.4, display: false },
      y: { type: 'linear', min: -0.6, max: 2, display: false }
    }
  },
  plugins: [frameAndText]
});
</script>
</body>
</html>
